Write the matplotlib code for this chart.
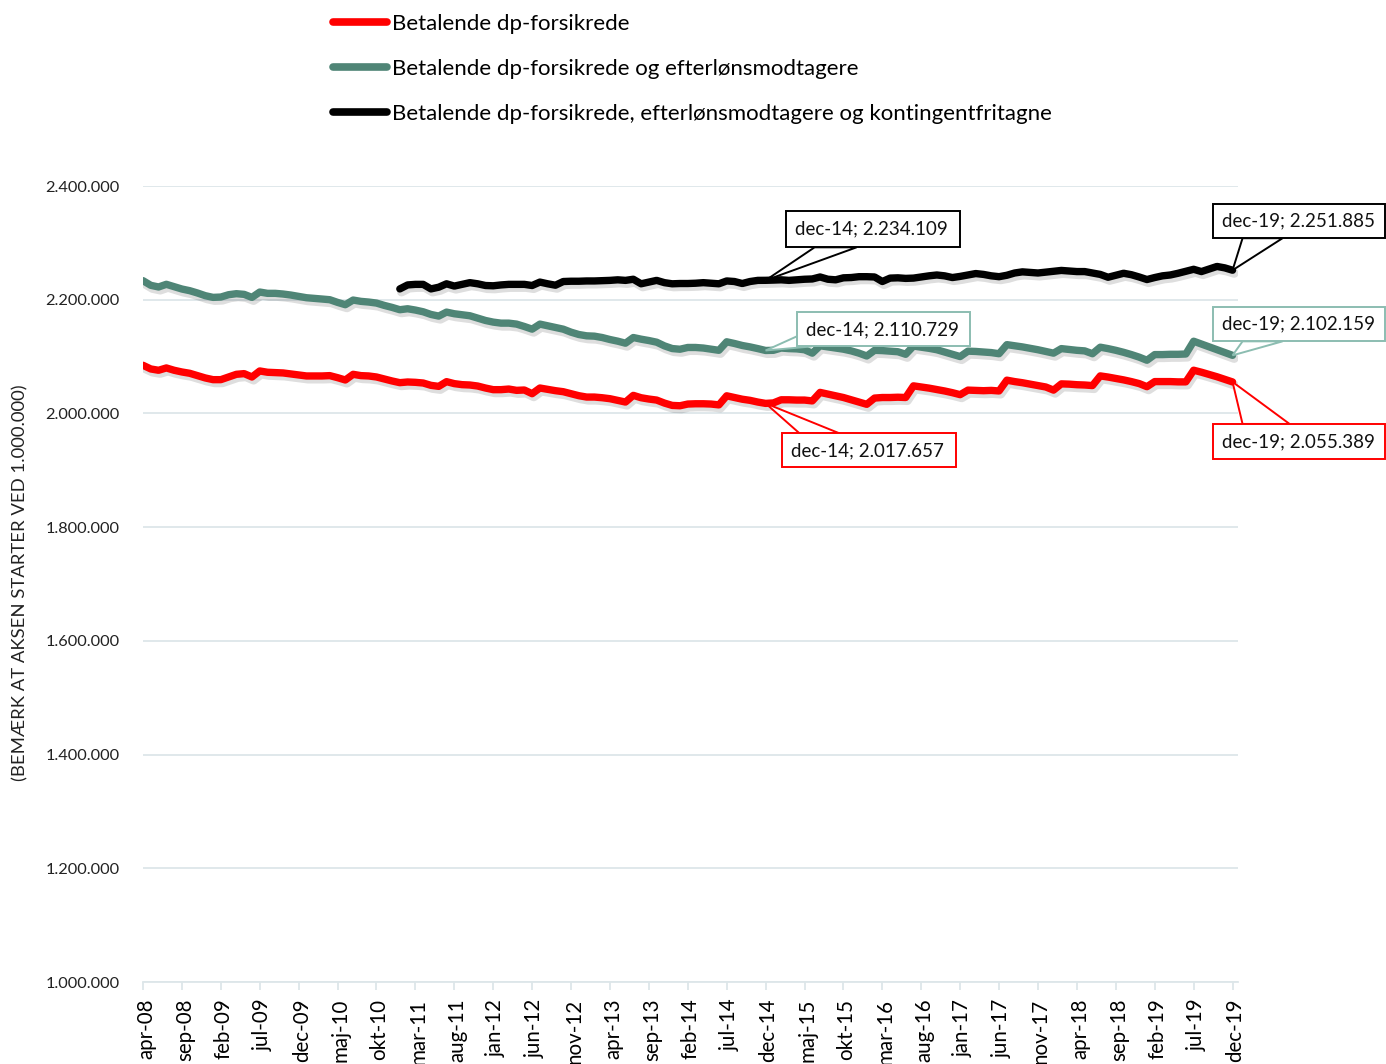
import numpy as np
import matplotlib
matplotlib.use('Agg')
import matplotlib.pyplot as plt
import matplotlib.patheffects as pe
from matplotlib.lines import Line2D
from matplotlib.patches import Polygon, Rectangle
from matplotlib.transforms import IdentityTransform, ScaledTranslation

plt.rcParams['font.family'] = ['Lato', 'DejaVu Sans']

# monthly values apr-08 .. dec-19
red = [2084700, 2078200, 2075900, 2080000, 2075900, 2072900, 2070600, 2066500, 2062400, 2059400,
       2059400, 2064100, 2068800, 2070000, 2064100, 2074700, 2072400, 2071800, 2071200, 2069400,
       2067600, 2065900, 2065900, 2065900, 2066500, 2062900, 2058800, 2068800, 2066500, 2065900,
       2064100, 2060600, 2057100, 2054100, 2055300, 2054700, 2053500, 2049400, 2047600, 2055900,
       2052400, 2050600, 2050000, 2048200, 2044700, 2041800, 2041800, 2042900, 2040600, 2041200,
       2034700, 2044700, 2042400, 2040000, 2038200, 2034700, 2031200, 2028800, 2028800, 2027600,
       2025900, 2022900, 2020000, 2031800, 2027600, 2025300, 2023500, 2018200, 2014100, 2013500,
       2016500, 2017000, 2017000, 2016500, 2015000, 2031000, 2028000, 2025000, 2023000, 2020000,
       2017657, 2018500, 2024000, 2024000, 2023500, 2023500, 2022000, 2037000, 2034000, 2031000,
       2028000, 2024000, 2020000, 2016000, 2027000, 2028000, 2028000, 2028500, 2028000, 2048500,
       2046500, 2044500, 2042000, 2039500, 2036500, 2033000, 2041000, 2040500, 2040000, 2040500,
       2039500, 2058500, 2056000, 2054000, 2051500, 2049000, 2046500, 2041000, 2052000, 2051500,
       2050500, 2050000, 2049000, 2066000, 2064000, 2061500, 2059000, 2056000, 2052500, 2047000,
       2056000, 2056000, 2056000, 2055500, 2055500, 2076000, 2072500, 2068500, 2064500, 2060000,
       2055389]

green = [2233500, 2225300, 2222400, 2227100, 2222900, 2218800, 2215900, 2211800, 2207100, 2204100,
         2204700, 2208800, 2210600, 2209400, 2204100, 2213500, 2211200, 2211200, 2210000, 2208200,
         2205900, 2203500, 2202400, 2201200, 2200000, 2195300, 2191200, 2199400, 2197100, 2195900,
         2194100, 2190000, 2186500, 2182400, 2184100, 2181800, 2178800, 2174100, 2171200, 2178200,
         2175300, 2173500, 2171800, 2167600, 2163500, 2160600, 2158800, 2158800, 2157100, 2152900,
         2148200, 2157100, 2154100, 2151200, 2148200, 2142900, 2138800, 2136500, 2135900, 2133500,
         2130000, 2127100, 2123500, 2133500, 2130600, 2128200, 2125300, 2118800, 2114100, 2112900,
         2116000, 2116000, 2115000, 2113000, 2111000, 2126000, 2123000, 2119500, 2117000, 2114000,
         2110729, 2111000, 2115000, 2114000, 2113500, 2112000, 2106000, 2119000, 2117000, 2115000,
         2113000, 2110000, 2106000, 2101000, 2111000, 2110500, 2109500, 2108500, 2104000, 2118500,
         2116500, 2114500, 2112000, 2108000, 2104000, 2100000, 2109500, 2109000, 2108000, 2107000,
         2105000, 2121000, 2119000, 2117000, 2114500, 2112000, 2109000, 2106000, 2114000, 2112500,
         2111000, 2110000, 2105000, 2116500, 2114000, 2111000, 2107500, 2103500, 2099000, 2093500,
         2103500, 2103500, 2104000, 2104000, 2104500, 2127000, 2122000, 2117000, 2112000, 2107000,
         2102159]

# starts jan-11
black = [2219000, 2226000, 2227000, 2227000, 2219000, 2222000, 2228000, 2224000, 2227000, 2230000,
         2228000, 2225000, 2224500, 2226000, 2227000, 2227000, 2227000, 2225000, 2231000, 2228000,
         2225500, 2232000, 2232500, 2232500, 2233000, 2233000, 2233500, 2234000, 2235000, 2234000,
         2236000, 2228000, 2231000, 2234000, 2230000, 2228000, 2228500, 2228500, 2229000, 2230000,
         2229000, 2228000, 2233000, 2232000, 2228500, 2232000, 2234000, 2234109, 2234500, 2235000,
         2234000, 2235000, 2236000, 2236500, 2240000, 2236000, 2235000, 2238500, 2239000, 2240500,
         2240500, 2240000, 2232000, 2238000, 2238500, 2237500, 2238000, 2240000, 2242000, 2243500,
         2242000, 2239000, 2241000, 2243500, 2246000, 2244500, 2242000, 2240500, 2243000, 2247000,
         2249000, 2248000, 2247000, 2248500, 2250000, 2251500, 2250500, 2249500, 2249500, 2247000,
         2244500, 2239500, 2243000, 2246500, 2244000, 2240000, 2235500, 2239000, 2242000, 2243500,
         2246500, 2250000, 2253500, 2249500, 2254000, 2258500, 2256000, 2251885]

tick_labels = ['apr-08', 'sep-08', 'feb-09', 'jul-09', 'dec-09', 'maj-10', 'okt-10', 'mar-11',
               'aug-11', 'jan-12', 'jun-12', 'nov-12', 'apr-13', 'sep-13', 'feb-14', 'jul-14',
               'dec-14', 'maj-15', 'okt-15', 'mar-16', 'aug-16', 'jan-17', 'jun-17', 'nov-17',
               'apr-18', 'sep-18', 'feb-19', 'jul-19', 'dec-19']

names = ['Betalende dp-forsikrede',
         'Betalende dp-forsikrede og efterlønsmodtagere',
         'Betalende dp-forsikrede, efterlønsmodtagere og kontingentfritagne']
colors = ['#ff0000', '#4f8576', '#000000']
box_edges = ['#ff0000', '#8cbdb1', '#000000']


def fmt(v):
    return f'{int(v):,}'.replace(',', '.')


W, H = 1386, 1064
fig = plt.figure(figsize=(W / 100, H / 100), dpi=100)
ax = fig.add_axes([143 / W, 1 - 982 / H, (1238 - 143) / W, (982 - 186) / H])

x_all = np.arange(len(red))
x_black = np.arange(len(red) - len(black), len(red))

shadow = [pe.SimpleLineShadow(offset=(1.2, -2.2), shadow_color='black', alpha=0.13, linewidth=6.5),
          pe.Normal()]
for xs, ys, c in [(x_all, red, colors[0]), (x_all, green, colors[1]), (x_black, black, colors[2])]:
    ax.plot(xs, ys, color=c, lw=5.3, solid_capstyle='round', solid_joinstyle='round',
            path_effects=shadow, zorder=3)

ax.set_xlim(0, 140.7)
ax.set_ylim(1_000_000, 2_400_000)
ax.set_yticks(np.arange(1_000_000, 2_400_001, 200_000))
ax.yaxis.set_major_formatter(lambda v, p: fmt(v))
ax.grid(axis='y', color='#dde6e9', lw=1.3)
ax.set_axisbelow(True)
for s in ['top', 'right', 'left']:
    ax.spines[s].set_visible(False)
ax.spines['bottom'].set_color('#dde6e9')
ax.spines['bottom'].set_linewidth(1.3)
ax.tick_params(axis='y', length=0, pad=17, labelsize=11.8, labelcolor='#222222')
ax.set_xticks(np.arange(0, len(red), 5))
ax.set_xticklabels(tick_labels, rotation=90, fontsize=14.8, va='top')
ax.tick_params(axis='x', length=6, width=1.3, color='#dde6e9', pad=6)
for lab in ax.get_xticklabels():
    lab.set_transform(lab.get_transform() + ScaledTranslation(3 / 100, 0, fig.dpi_scale_trans))

fig.text(20 / W, 1 - 583 / H, '(BEMÆRK AT AKSEN STARTER VED 1.000.000)', rotation=90,
         ha='center', va='center', fontsize=13.3, color='#222222')

handles = [Line2D([], [], color=c, lw=5.5, solid_capstyle='round') for c in colors]
fig.legend(handles, names, loc='upper left', bbox_to_anchor=(333 / W, 1 - 14 / H), frameon=False,
           fontsize=16, handlelength=2.45, handletextpad=0.2, labelspacing=1.13,
           borderpad=0, borderaxespad=0)


def callout(i, v, box, base, edge, label):
    px, py = ax.transData.transform((i, v))
    x0, x1 = px + box[0], px + box[2]
    ytop, ybot = py - box[1], py - box[3]
    tri = [(px, py), (px + base[0][0], py - base[0][1]), (px + base[1][0], py - base[1][1])]
    fig.add_artist(Polygon(tri, closed=True, facecolor='white', edgecolor=edge, lw=1.4,
                           transform=IdentityTransform(), zorder=5))
    fig.add_artist(Rectangle((x0, ybot), x1 - x0, ytop - ybot, facecolor='white', edgecolor=edge,
                             lw=1.4, transform=IdentityTransform(), zorder=6))
    fig.text(x0 + 9, (ytop + ybot) / 2, label, transform=IdentityTransform(), ha='left',
             va='center', fontsize=13.5, color='#111111', zorder=7)


series = [red, green, black]
# (box offsets dx0, dy0, dx1, dy1 in px, y down), wedge base points
layout = {
    (0, 80): ((16, 30, 190, 64), ((34, 30), (74, 30))),
    (0, 140): ((-20, 42, 152, 77), ((10, 42), (57, 42))),
    (1, 80): ((31, -38, 204, -4), ((31, -14), (46, -4))),
    (1, 140): ((-20, -48, 152, -14), ((10, -14), (50, -14))),
    (2, 80): ((20, -69, 194, -33), ((49, -33), (91, -33))),
    (2, 140): ((-20, -66, 152, -32), ((10, -32), (50, -32))),
}
for (s, i), (box, base) in layout.items():
    vals = series[s]
    v = vals[i - (len(red) - len(vals))]
    callout(i, v, box, base, box_edges[s], f'{tick_labels[i // 5]}; {fmt(v)}')

fig.savefig('out.png', dpi=100)
